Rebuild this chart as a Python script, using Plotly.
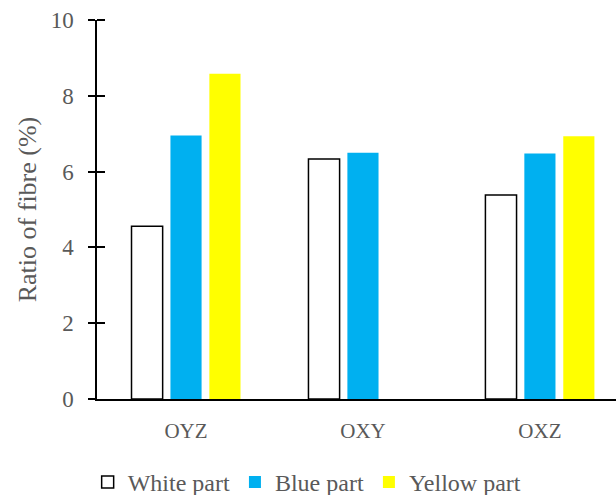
import plotly.graph_objects as go

categories = ["OYZ", "OXY", "OXZ"]
white = [4.56, 6.33, 5.38]
blue = [6.95, 6.50, 6.48]
yellow = [8.58, None, 6.93]
series_names = ["White part", "Blue part", "Yellow part"]
y_ticks = [0, 2, 4, 6, 8, 10]

font = "Liberation Serif"
gray = "#595959"

fig = go.Figure()
fig.add_trace(go.Bar(x=categories, y=white, name=series_names[0],
                     marker=dict(color="white", line=dict(color="black", width=1.5))))
fig.add_trace(go.Bar(x=categories, y=blue, name=series_names[1],
                     marker=dict(color="#00B0F0", line=dict(color="#00B0F0", width=0))))
fig.add_trace(go.Bar(x=categories, y=yellow, name=series_names[2],
                     marker=dict(color="#FFFF00", line=dict(color="#FFFF00", width=0))))

# inner half of the cross ticks, drawn as minor ticks (nudged so they are not merged with major ones)
inner_ticks = [v - 1e-4 for v in y_ticks[1:]]

fig.update_layout(
    width=616, height=495,
    margin=dict(l=97, r=0, t=20, b=96, autoexpand=False),
    paper_bgcolor="white", plot_bgcolor="white",
    barmode="group", bargap=0.34, bargroupgap=0.2,
    font=dict(family=font, size=22, color=gray),
    showlegend=True,
    legend=dict(orientation="h", xref="paper", yref="paper",
                x=-0.018, xanchor="left", y=-0.22, yanchor="middle",
                font=dict(family=font, size=24, color=gray),
                itemwidth=30, traceorder="normal"),
    xaxis=dict(range=[-0.503, 2.43], showline=True, linecolor="black", linewidth=1.5,
               ticks="outside", ticklen=12, tickcolor="rgba(0,0,0,0)",
               showgrid=False, tickfont=dict(size=21, color=gray)),
    yaxis=dict(range=[0, 10], tickvals=y_ticks, showline=True, linecolor="black", linewidth=1.5,
               ticks="outside", ticklen=7, tickcolor="black", tickwidth=1.5,
               ticklabelstandoff=10,
               minor=dict(tickvals=inner_ticks, ticks="inside", ticklen=8,
                          tickcolor="black", tickwidth=1.5, showgrid=False),
               showgrid=False, zeroline=False,
               title=dict(text="Ratio of fibre (%)", font=dict(size=26, color=gray), standoff=7),
               tickfont=dict(size=23, color=gray)),
)

fig.write_html("out.html", config={"displayModeBar": False},
               post_script="document.body.style.margin='0';document.body.style.overflow='hidden';")
